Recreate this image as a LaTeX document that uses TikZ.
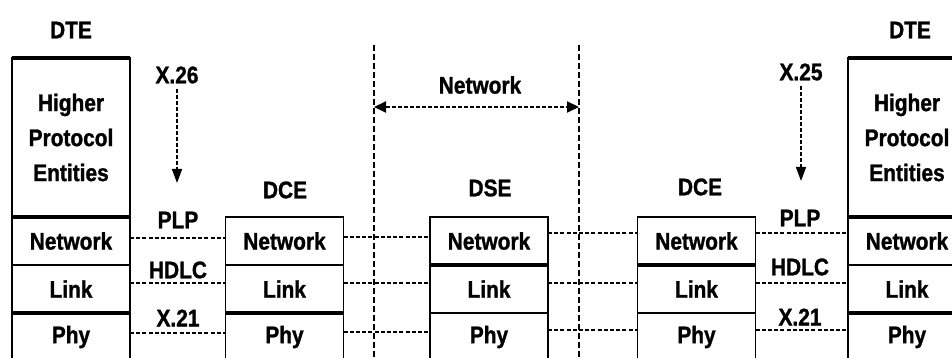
\documentclass[tikz,border=0pt]{standalone}
\usepackage{fontspec}
\setmainfont{Liberation Sans}[FakeStretch=0.87, BoldFeatures={FakeBold=1.2}]
\usetikzlibrary{arrows.meta,positioning}

\tikzset{
  layer/.style={draw, line width=1.4pt, outer sep=0pt, inner sep=0pt,
    minimum width=118pt, minimum height=48pt,
    font=\fontsize{24}{28}\selectfont\bfseries},
  upper/.style={layer, minimum height=159pt, align=center,
    font=\fontsize{24}{35}\selectfont\bfseries},
  tag/.style={inner sep=0pt, font=\fontsize{24}{28}\selectfont\bfseries},
  sep/.style={line width=3.2pt},
  iface/.style={line width=1.4pt, dash pattern=on 4pt off 2.2pt},
  bound/.style={line width=1.1pt, dash pattern=on 6pt off 3pt},
  flow/.style={line width=1.6pt, dash pattern=on 4pt off 2pt,
    -{Triangle[length=14pt,width=10pt]}},
}

\begin{document}
\begin{tikzpicture}[x=1pt,y=-1pt]
  \useasboundingbox (0,0) rectangle (952,358);

  % boundaries of the network
  \coordinate (bl top) at (374,45);
  \coordinate (bl bot) at (374,358);
  \coordinate (br top) at (579,45);
  \coordinate (br bot) at (579,358);
  \draw[bound] (bl top) -- (bl bot);
  \draw[bound] (br top) -- (br bot);

  % left DTE
  \node[tag] (ldte) at (71,30) {DTE};
  \node[upper] (lhigh) at (71,137.5) {Higher\\Protocol\\Entities};
  \node[layer, below=0pt of lhigh] (lnet) {Network};
  \node[layer, below=0pt of lnet] (llink) {Link};
  \node[layer, below=0pt of llink] (lphy) {Phy};
  \draw[sep] (lhigh.north west) -- (lhigh.north east);
  \draw[sep] (lhigh.south west) -- (lhigh.south east);
  \draw[sep] (llink.south west) -- (llink.south east);

  % left DCE
  \node[tag] (ldce) at (285,190) {DCE};
  \node[layer] (dnet) at (284.5,241) {Network};
  \node[layer, below=0pt of dnet] (dlink) {Link};
  \node[layer, below=0pt of dlink] (dphy) {Phy};
  \draw[sep] (dlink.south west) -- (dlink.south east);

  % DSE
  \node[tag] (dse) at (490,188) {DSE};
  \node[layer] (snet) at (489,241) {Network};
  \node[layer, below=0pt of snet] (slink) {Link};
  \node[layer, below=0pt of slink] (sphy) {Phy};
  \draw[sep] (snet.south west) -- (snet.south east);

  % right DCE
  \node[tag] (rdce) at (700,187) {DCE};
  \node[layer] (rnet) at (696.5,241) {Network};
  \node[layer, below=0pt of rnet] (rlink) {Link};
  \node[layer, below=0pt of rlink] (rphy) {Phy};
  \draw[sep] (rnet.south west) -- (rnet.south east);

  % right DTE
  \node[tag] (rdte) at (910,30) {DTE};
  \node[upper] (rhigh) at (907,137.5) {Higher\\Protocol\\Entities};
  \node[layer, below=0pt of rhigh] (tnet) {Network};
  \node[layer, below=0pt of tnet] (tlink) {Link};
  \node[layer, below=0pt of tlink] (tphy) {Phy};
  \draw[sep] (rhigh.north west) -- (rhigh.north east);
  \draw[sep] (rhigh.south west) -- (rhigh.south east);
  \draw[sep] (tlink.south west) -- (tlink.south east);

  % interfaces
  \draw[iface] ([yshift=3pt]lnet.east) -- ([yshift=3pt]dnet.west);
  \draw[iface] ([yshift=6pt]llink.east) -- ([yshift=6pt]dlink.west);
  \draw[iface] ([yshift=4pt]lphy.east) -- ([yshift=4pt]dphy.west);
  \draw[iface] ([yshift=4pt]dnet.east) -- ([yshift=4pt]snet.west);
  \draw[iface] ([yshift=6pt]dlink.east) -- ([yshift=6pt]slink.west);
  \draw[iface] ([yshift=5pt]dphy.east) -- ([yshift=5pt]sphy.west);
  \draw[iface] ([yshift=8pt]snet.east) -- ([yshift=8pt]rnet.west);
  \draw[iface] ([yshift=6pt]slink.east) -- ([yshift=6pt]rlink.west);
  \draw[iface] ([yshift=7pt]sphy.east) -- ([yshift=7pt]rphy.west);
  \draw[iface] ([yshift=8pt]rnet.east) -- ([yshift=8pt]tnet.west);
  \draw[iface] ([yshift=6pt]rlink.east) -- ([yshift=6pt]tlink.west);
  \draw[iface] ([yshift=7pt]rphy.east) -- ([yshift=7pt]tphy.west);

  \node[tag] (lplp) at (178,220) {PLP};
  \node[tag] (lhdlc) at (178,270) {HDLC};
  \node[tag] (lx21) at (178,318) {X.21};
  \node[tag] (rplp) at (800,218) {PLP};
  \node[tag] (rhdlc) at (800,267) {HDLC};
  \node[tag] (rx21) at (800,317) {X.21};

  % protocol arrows
  \node[tag] (x26) at (177,75) {X.26};
  \coordinate (x26 end) at (177,183);
  \draw[flow, shorten <=5pt] (x26) -- (x26 end);
  \node[tag] (x25) at (801,72) {X.25};
  \coordinate (x25 end) at (801,181);
  \draw[flow, shorten <=5pt] (x25) -- (x25 end);

  % network span
  \node[tag] (netlbl) at (480,85) {Network};
  \coordinate (na) at (374,107);
  \coordinate (nb) at (579,107);
  \draw[flow, line width=2pt, {Triangle[length=12pt,width=11pt]}-{Triangle[length=12pt,width=11pt]}] (na) -- (nb);
\end{tikzpicture}
\end{document}
